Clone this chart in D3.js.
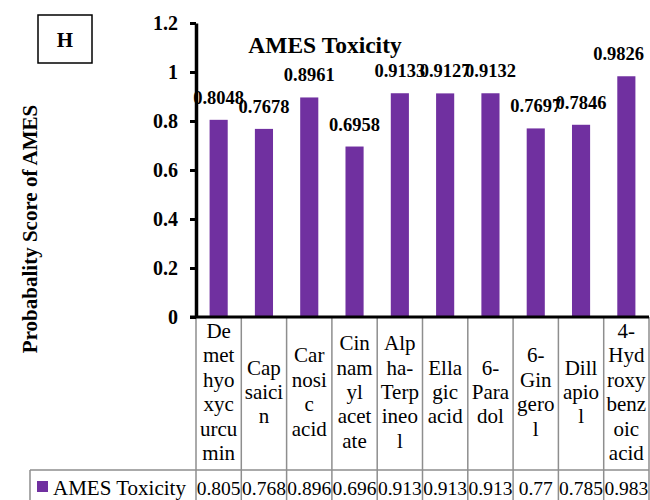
<!DOCTYPE html>
<html>
<head>
<meta charset="utf-8">
<script src="https://cdn.jsdelivr.net/npm/d3@7"></script>
<style>
  body { margin: 0; background: #fff; }
  svg { display: block; font-family: "Liberation Serif", "Times New Roman", serif; }
</style>
</head>
<body>
<div id="chart"></div>
<script>
// values
var compounds = ["Demethyoxycurcumin", "Capsaicin", "Carnosic acid", "Cinnamyl acetate", "Alpha-Terpineol",
  "Ellagic acid", "6-Paradol", "6-Gingerol", "Dillapiol", "4-Hydroxybenzoic acid"];
var scores = [0.8048, 0.7678, 0.8961, 0.6958, 0.9133, 0.9127, 0.9132, 0.7697, 0.7846, 0.9826];
var scoreLabels = ["0.8048", "0.7678", "0.8961", "0.6958", "0.9133", "0.9127", "0.9132", "0.7697", "0.7846", "0.9826"];
var tableValues = ["0.805", "0.768", "0.896", "0.696", "0.913", "0.913", "0.913", "0.77", "0.785", "0.983"];
var labelLines = [
  ["De", "met", "hyo", "xyc", "urcu", "min"],
  ["Cap", "saici", "n"],
  ["Car", "nosi", "c", "acid"],
  ["Cin", "nam", "yl", "acet", "ate"],
  ["Alp", "ha-", "Terp", "ineo", "l"],
  ["Ella", "gic", "acid"],
  ["6-", "Para", "dol"],
  ["6-", "Gin", "gero", "l"],
  ["Dill", "apio", "l"],
  ["4-", "Hyd", "roxy", "benz", "oic", "acid"]
];
var yTicks = [0, 0.2, 0.4, 0.6, 0.8, 1, 1.2];
var seriesName = "AMES Toxicity";

var width = 650, height = 500;
var purple = "#7030a0", grid = "#8e8e8e";

var svg = d3.select("#chart").append("svg").attr("width", width).attr("height", height);

var x = d3.scaleBand().domain(compounds).range([196, 649]).padding(0);
var y = d3.scaleLinear().domain([0, 1.2]).range([317, 23]);
var barW = x.bandwidth() * 0.4;

// H box
svg.append("rect").attr("x", 38).attr("y", 15).attr("width", 54).attr("height", 48)
  .style("fill", "none").style("stroke", "#000").style("stroke-width", 1.5);
svg.append("text").attr("x", 65).attr("y", 47).attr("text-anchor", "middle")
  .style("font-weight", "bold").style("font-size", "21px").text("H");

// title
svg.append("text").attr("x", 325).attr("y", 53).attr("text-anchor", "middle")
  .style("font-weight", "bold").style("font-size", "23.5px").text(seriesName);

// y label
svg.append("text").attr("transform", "translate(37,229) rotate(-90)").attr("text-anchor", "middle")
  .style("font-weight", "bold").style("font-size", "21px").text("Probabality Score of AMES");

// bars
svg.selectAll(".bar").data(compounds).enter().append("rect")
  .attr("class", "bar")
  .attr("x", function(d){ return x(d) + (x.bandwidth() - barW) / 2; })
  .attr("width", barW)
  .attr("y", function(d, i){ return y(scores[i]); })
  .attr("height", function(d, i){ return y(0) - y(scores[i]); })
  .style("fill", purple);

// data labels, kept inside the right edge like the original
svg.selectAll(".dlabel").data(compounds).enter().append("text")
  .attr("class", "dlabel")
  .attr("y", function(d, i){ return y(scores[i]) - 16; })
  .attr("text-anchor", "middle")
  .style("font-weight", "bold").style("font-size", "18.5px")
  .text(function(d, i){ return scoreLabels[i]; })
  .attr("x", function(d){
    var cx = x(d) + x.bandwidth() / 2;
    var w = this.getComputedTextLength();
    return Math.min(cx, width - 6 - w / 2);
  });

// table grid
var bounds = compounds.map(function(d){ return x(d); }).concat([x.range()[1]]);
svg.selectAll(".vgrid").data(bounds).enter().append("line")
  .attr("class", "vgrid")
  .attr("x1", function(d){ return d; }).attr("x2", function(d){ return d; })
  .attr("y1", 317).attr("y2", height)
  .style("stroke", grid).style("stroke-width", 1.5);
svg.append("line").attr("x1", 30).attr("x2", 649).attr("y1", 470).attr("y2", 470)
  .style("stroke", grid).style("stroke-width", 1.5);
svg.append("line").attr("x1", 30).attr("x2", 30).attr("y1", 470).attr("y2", height)
  .style("stroke", grid).style("stroke-width", 1.5);

// category labels in header cells
var lineH = 24.4, midY = 399;
compounds.forEach(function(c, i){
  var lines = labelLines[i];
  var t = svg.append("text").attr("text-anchor", "middle").style("font-size", "21px");
  lines.forEach(function(s, j){
    t.append("tspan").attr("x", x(c) + x.bandwidth() / 2)
      .attr("y", midY + (j - (lines.length - 1) / 2) * lineH).text(s);
  });
});

// values row
svg.selectAll(".tval").data(compounds).enter().append("text")
  .attr("class", "tval")
  .attr("x", function(d){ return x(d) + x.bandwidth() / 2; })
  .attr("y", 495).attr("text-anchor", "middle").style("font-size", "19.5px")
  .text(function(d, i){ return tableValues[i]; });

svg.append("rect").attr("x", 37).attr("y", 481).attr("width", 11).attr("height", 11).style("fill", purple);
svg.append("text").attr("x", 53).attr("y", 495).style("font-size", "21px").text(seriesName);

// axes
var yAxis = d3.axisLeft(y).tickValues(yTicks).tickFormat(d3.format("~g")).tickSizeInner(6).tickSizeOuter(0).tickPadding(12);
var gy = svg.append("g").attr("transform", "translate(196,0)").call(yAxis);
gy.select(".domain").style("stroke", "#000").style("stroke-width", 3.5);
gy.selectAll(".tick line").style("stroke", "#000").style("stroke-width", 3);
gy.selectAll(".tick text").style("font-family", "Liberation Serif").style("font-weight", "bold")
  .style("font-size", "20px").style("fill", "#000");

svg.append("line").attr("x1", 190).attr("x2", 649).attr("y1", y(0)).attr("y2", y(0))
  .style("stroke", "#000").style("stroke-width", 3);
</script>
</body>
</html>
